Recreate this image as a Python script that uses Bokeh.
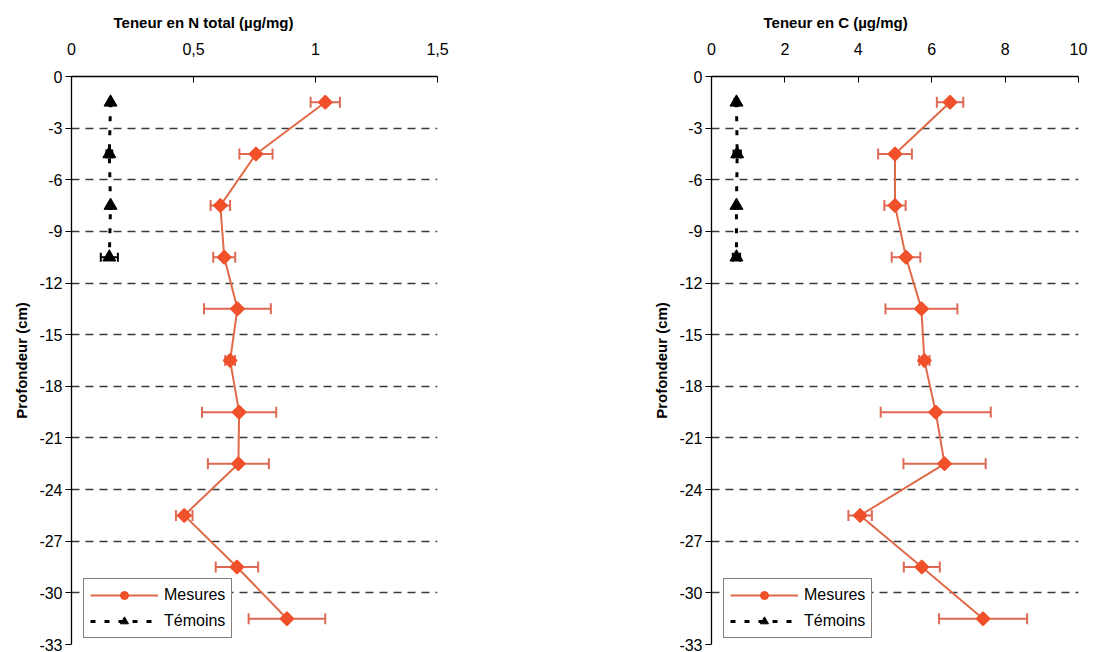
import math
from bokeh.plotting import figure
from bokeh.layouts import row
from bokeh.models import (ColumnDataSource, Whisker, TeeHead, Legend, LegendItem,
                          FixedTicker, Range1d, Title)
from bokeh.embed import file_html
from bokeh.resources import INLINE

# ---------------- data ----------------
depth_mes = [-1.5, -4.5, -7.5, -10.5, -13.5, -16.5, -19.5, -22.5, -25.5, -28.5, -31.5]
depth_tem = [-1.5, -4.5, -7.5, -10.5]

n_mes = [1.04, 0.756, 0.61, 0.626, 0.68, 0.65, 0.687, 0.684, 0.462, 0.678, 0.883]
n_mes_err = [0.06, 0.068, 0.04, 0.045, 0.137, 0.02, 0.152, 0.125, 0.034, 0.087, 0.157]
n_tem = [0.16, 0.155, 0.16, 0.155]
n_tem_err = [0.005, 0.012, 0.005, 0.035]

c_mes = [6.5, 5.0, 5.0, 5.3, 5.72, 5.8, 6.11, 6.35, 4.05, 5.73, 7.4]
c_mes_err = [0.36, 0.46, 0.29, 0.39, 0.98, 0.14, 1.5, 1.12, 0.32, 0.49, 1.2]
c_tem = [0.68, 0.7, 0.68, 0.68]
c_tem_err = [0.05, 0.1, 0.04, 0.1]

y_ticks = [0, -3, -6, -9, -12, -15, -18, -21, -24, -27, -30, -33]
y_tick_labels = ["0", "-3", "-6", "-9", "-12", "-15", "-18", "-21", "-24", "-27", "-30", "-33"]
n_ticks = [0, 0.5, 1, 1.5]
n_tick_labels = ["0", "0,5", "1", "1,5"]
c_ticks = [0, 2, 4, 6, 8, 10]
c_tick_labels = ["0", "2", "4", "6", "8", "10"]

FONT = "Liberation Sans"
LINE_C = "#E06A48"
MARK_C = "#F0502A"
ERR_C = "#DE6A55"


def make_chart(mes, mes_err, tem, tem_err, xmax, ticks, tick_labels, title,
               title_offset, border_left, border_right, frame_w):
    p = figure(frame_width=frame_w, frame_height=568,
               min_border_left=border_left, min_border_right=border_right,
               min_border_top=76, min_border_bottom=8,
               x_range=Range1d(0, xmax), y_range=Range1d(-33, 0),
               x_axis_location="above", output_backend="svg",
               toolbar_location=None, background_fill_color="white",
               border_fill_color="white")
    p.outline_line_color = None

    p.title = Title(text=title, align="left", offset=title_offset,
                    text_font=FONT, text_font_size="15px",
                    text_font_style="bold", text_color="black", standoff=18)

    # axes
    xa = p.xaxis[0]
    xa.ticker = FixedTicker(ticks=ticks)
    xa.major_label_overrides = {t: l for t, l in zip(ticks, tick_labels)}
    xa.major_tick_in = 6
    xa.major_tick_out = 0
    xa.minor_tick_in = 0
    xa.minor_tick_out = 0
    xa.major_label_standoff = 22
    xa.axis_line_color = "black"
    xa.axis_line_width = 1.3
    xa.major_tick_line_color = "black"
    xa.major_label_text_font = FONT
    xa.major_label_text_font_size = "16px"
    xa.major_label_text_color = "black"

    ya = p.yaxis[0]
    ya.ticker = FixedTicker(ticks=y_ticks)
    ya.major_label_overrides = {t: l for t, l in zip(y_ticks, y_tick_labels)}
    ya.major_tick_in = 0
    ya.major_tick_out = 6
    ya.minor_tick_in = 0
    ya.minor_tick_out = 0
    ya.major_label_standoff = 3
    ya.axis_line_color = "black"
    ya.axis_line_width = 1.3
    ya.major_tick_line_color = "black"
    ya.major_label_text_font = FONT
    ya.major_label_text_font_size = "16px"
    ya.major_label_text_color = "black"
    ya.axis_label = "Profondeur (cm)"
    ya.axis_label_text_font = FONT
    ya.axis_label_text_font_size = "15px"
    ya.axis_label_text_font_style = "bold"
    ya.axis_label_text_color = "black"
    ya.axis_label_standoff = 6

    p.xgrid.visible = False
    p.ygrid.ticker = FixedTicker(ticks=y_ticks[1:])
    p.ygrid.grid_line_color = "#3a3a3a"
    p.ygrid.grid_line_dash = "8 6"
    p.ygrid.grid_line_width = 1.3

    # error bars
    src_m = ColumnDataSource(dict(x=mes, y=depth_mes,
                                  lo=[v - e for v, e in zip(mes, mes_err)],
                                  hi=[v + e for v, e in zip(mes, mes_err)]))
    src_t = ColumnDataSource(dict(x=tem, y=depth_tem,
                                  lo=[v - e for v, e in zip(tem, tem_err)],
                                  hi=[v + e for v, e in zip(tem, tem_err)]))
    wm = Whisker(base="y", lower="lo", upper="hi", dimension="width", source=src_m,
                 line_color=ERR_C, line_width=2,
                 upper_head=TeeHead(size=11, line_color=ERR_C, line_width=2),
                 lower_head=TeeHead(size=11, line_color=ERR_C, line_width=2))
    wt = Whisker(base="y", lower="lo", upper="hi", dimension="width", source=src_t,
                 line_color="black", line_width=2,
                 upper_head=TeeHead(size=9, line_color="black", line_width=2),
                 lower_head=TeeHead(size=9, line_color="black", line_width=2))
    p.add_layout(wm)
    p.add_layout(wt)

    lt = p.line("x", "y", source=src_t, line_color="black", line_width=3,
                line_dash="5 9")
    st = p.scatter("x", "y", source=src_t, marker="triangle", size=13,
                   fill_color="black", line_color="black")
    lm = p.line("x", "y", source=src_m, line_color=LINE_C, line_width=2)
    # round marker underneath (also used for the legend symbol)
    sm = p.scatter("x", "y", source=src_m, marker="circle", size=9,
                   fill_color=MARK_C, line_color=MARK_C)
    p.scatter("x", "y", source=src_m, marker="square", angle=math.pi / 4,
              size=9.5, fill_color=MARK_C, line_color=MARK_C, line_width=1.5)

    legend = Legend(items=[LegendItem(label="Mesures", renderers=[lm, sm]),
                           LegendItem(label="Témoins", renderers=[lt, st])],
                    location=(12, 6), orientation="vertical",
                    glyph_width=68, glyph_height=20, label_standoff=6,
                    padding=6, spacing=6, margin=0,
                    label_text_font=FONT, label_text_font_size="16px",
                    label_text_color="black",
                    border_line_color="black", border_line_width=1.3,
                    background_fill_color="white", background_fill_alpha=1.0)
    p.add_layout(legend, "center")
    return p


p1 = make_chart(n_mes, n_mes_err, n_tem, n_tem_err, 1.5, n_ticks, n_tick_labels,
                "Teneur en N total (µg/mg)", 42, 71, 110, 366)
p2 = make_chart(c_mes, c_mes_err, c_tem, c_tem_err, 10, c_ticks, c_tick_labels,
                "Teneur en C (µg/mg)", 52, 164, 16, 367)

layout = row(p1, p2)
open("out.html", "w").write(file_html(layout, INLINE))
